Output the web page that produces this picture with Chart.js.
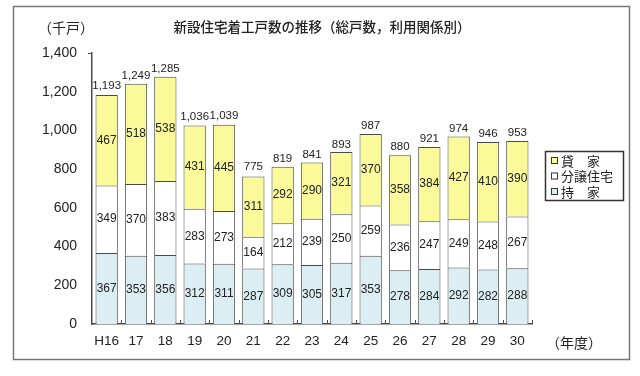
<!DOCTYPE html>
<html>
<head>
<meta charset="utf-8">
<script src="https://cdn.jsdelivr.net/npm/chart.js@4/dist/chart.umd.min.js"></script>
<style>
  html, body { margin: 0; padding: 0; background: #fff; }
  #wrap { width: 640px; height: 376px; }
</style>
</head>
<body>
<div id="wrap"><canvas id="barCanvas" width="640" height="376"></canvas></div>
<script>
// 新設住宅着工戸数の推移
const years = ["H16", "17", "18", "19", "20", "21", "22", "23", "24", "25", "26", "27", "28", "29", "30"];
const mochiie = [367, 353, 356, 312, 311, 287, 309, 305, 317, 353, 278, 284, 292, 282, 288];
const bunjo = [349, 370, 383, 283, 273, 164, 212, 239, 250, 259, 236, 247, 249, 248, 267];
const kashiya = [467, 518, 538, 431, 445, 311, 292, 290, 321, 370, 358, 384, 427, 410, 390];
const totals = [1193, 1249, 1285, 1036, 1039, 775, 819, 841, 893, 987, 880, 921, 974, 946, 953];
const yTicks = [0, 200, 400, 600, 800, 1000, 1200, 1400];

const JP = "'Noto Sans CJK JP', sans-serif";
const NUM = "'Liberation Sans', Arial, sans-serif";
const lineCol = "#4a4a4a";

const yellow = "rgb(250, 250, 155)";
const blue = "rgb(219, 238, 244)";
const white = "rgb(255, 255, 255)";

const fmt = v => v.toLocaleString("en-US");

const decoPlugin = {
    id: "deco",
    beforeDraw(chart) {
        const ctx = chart.ctx;
        ctx.save();
        ctx.fillStyle = "#fff";
        ctx.fillRect(0, 0, chart.width, chart.height);
        // outer frame
        ctx.strokeStyle = "#777";
        ctx.lineWidth = 1.5;
        ctx.strokeRect(13.5, 6.5, 616, 353);
        ctx.restore();
    },
    afterDraw(chart) {
        const ctx = chart.ctx;
        const ys = chart.scales.y;
        const area = chart.chartArea;
        ctx.save();

        // title and units
        ctx.fillStyle = "#222";
        ctx.font = "500 13.5px " + JP;
        ctx.textAlign = "center";
        ctx.textBaseline = "middle";
        ctx.fillText("新設住宅着工戸数の推移（総戸数，利用関係別）", 322, 27);
        ctx.textAlign = "left";
        ctx.font = "14px " + JP;
        ctx.fillText("（千戸）", 38, 28);
        ctx.fillText("（年度）", 546, 343);

        // x tick marks between categories, pointing up
        ctx.strokeStyle = lineCol;
        ctx.lineWidth = 1;
        const step = (area.right - area.left) / years.length;
        for (let i = 1; i <= years.length; i++) {
            const x = Math.round(area.left + step * i) + 0.5;
            ctx.beginPath();
            ctx.moveTo(x, area.bottom);
            ctx.lineTo(x, area.bottom - 4);
            ctx.stroke();
        }
        // small tick at the top of the y axis
        const yTop = Math.round(ys.getPixelForValue(1400)) + 0.5;
        ctx.beginPath();
        ctx.moveTo(area.left - 4, yTop);
        ctx.lineTo(area.left, yTop);
        ctx.stroke();

        // segment labels
        ctx.fillStyle = "#222";
        ctx.font = "12px " + NUM;
        ctx.textAlign = "center";
        ctx.textBaseline = "middle";
        chart.data.datasets.forEach((ds, di) => {
            const meta = chart.getDatasetMeta(di);
            meta.data.forEach((bar, i) => {
                const mid = (bar.y + bar.base) / 2;
                ctx.fillText(ds.data[i], bar.x, mid);
            });
        });

        // totals above bars
        const topMeta = chart.getDatasetMeta(2);
        ctx.font = "11.5px " + NUM;
        ctx.textBaseline = "bottom";
        topMeta.data.forEach((bar, i) => {
            ctx.fillText(fmt(totals[i]), bar.x, ys.getPixelForValue(totals[i]) - 1);
        });

        // legend
        const lx = 545, ly = 151, lw = 78, lh = 49;
        ctx.strokeStyle = "#333";
        ctx.lineWidth = 1.5;
        ctx.strokeRect(lx + 0.5, ly + 0.5, lw, lh);
        const items = [["貸　家", yellow], ["分譲住宅", white], ["持　家", blue]];
        ctx.font = "13px " + JP;
        ctx.textAlign = "left";
        ctx.textBaseline = "middle";
        items.forEach((it, k) => {
            const cy = ly + 10 + k * 15.5;
            ctx.fillStyle = it[1];
            ctx.fillRect(lx + 6.5, cy - 3.5, 6, 6);
            ctx.strokeStyle = "#333";
            ctx.lineWidth = 1;
            ctx.strokeRect(lx + 6.5, cy - 3.5, 6, 6);
            ctx.fillStyle = "#222";
            ctx.fillText(it[0], lx + 16, cy);
        });
        ctx.restore();
    }
};

const barCanvas = document.getElementById("barCanvas");

const barChart = new Chart(barCanvas, {
    type: "bar",
    data: {
        labels: years,
        datasets: [
            {
                label: "持家",
                data: mochiie,
                backgroundColor: blue,
                borderColor: lineCol,
                borderWidth: 1,
            },
            {
                label: "分譲住宅",
                data: bunjo,
                backgroundColor: white,
                borderColor: lineCol,
                borderWidth: 1,
            },
            {
                label: "貸家",
                data: kashiya,
                backgroundColor: yellow,
                borderColor: lineCol,
                borderWidth: 1,
            },
        ],
    },
    options: {
        responsive: false,
        animation: false,
        layout: {
            padding: { left: 13, right: 108, top: 53, bottom: 22 },
        },
        datasets: {
            bar: { categoryPercentage: 1, barPercentage: 0.76 },
        },
        plugins: {
            legend: { display: false },
            tooltip: { enabled: false },
        },
        scales: {
            x: {
                stacked: true,
                grid: { display: false, drawTicks: false },
                border: { display: true, color: lineCol, width: 1.5 },
                ticks: {
                    color: "#222",
                    font: { family: NUM, size: 13.5 },
                    padding: 9,
                    minRotation: 0,
                    maxRotation: 0,
                    autoSkip: false,
                },
                afterFit: s => { s.height = 30; },
            },
            y: {
                stacked: true,
                min: 0,
                max: 1400,
                grid: { display: false, drawTicks: false },
                border: { display: true, color: lineCol, width: 1.5 },
                afterBuildTicks: s => { s.ticks = yTicks.map(v => ({ value: v })); },
                ticks: {
                    color: "#222",
                    font: { family: NUM, size: 14 },
                    padding: 15,
                    callback: v => fmt(v),
                },
                afterFit: s => { s.width = 79; },
            },
        },
    },
    plugins: [decoPlugin],
});
</script>
</body>
</html>
